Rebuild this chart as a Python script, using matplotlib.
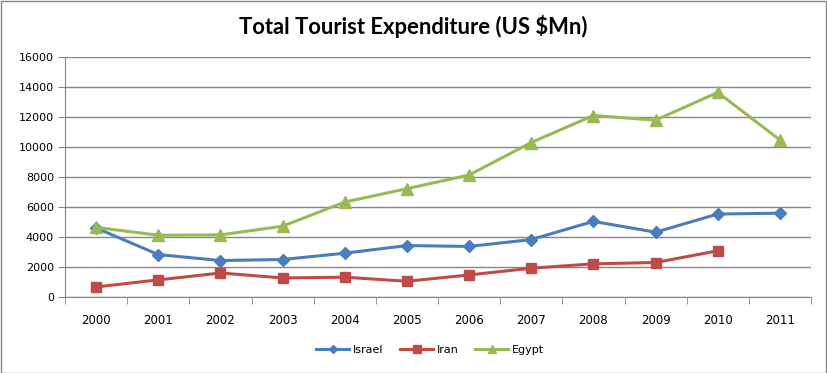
import matplotlib
matplotlib.use('Agg')
import matplotlib.pyplot as plt
from matplotlib.patches import Rectangle

years = ['2000', '2001', '2002', '2003', '2004', '2005',
         '2006', '2007', '2008', '2009', '2010', '2011']
israel = [4600, 2830, 2430, 2500, 2920, 3430, 3370, 3830, 5040, 4320, 5530, 5590]
iran = [670, 1140, 1600, 1270, 1320, 1050, 1470, 1920, 2210, 2300, 3080]
egypt = [4640, 4120, 4140, 4720, 6330, 7220, 8130, 10300, 12100, 11790, 13640, 10470]
yticks = [0, 2000, 4000, 6000, 8000, 10000, 12000, 14000, 16000]

fig = plt.figure(figsize=(8.27, 3.73), dpi=100)
ax = fig.add_axes([65 / 827, 1 - 297 / 373, 746 / 827, 240 / 373])

x = range(len(years))
ax.plot(x, israel, color='#4A7EBB', lw=2.2, marker='D', ms=6, label='Israel')
ax.plot(range(len(iran)), iran, color='#BE4B48', lw=2.2, marker='s', ms=7.5, label='Iran')
ax.plot(x, egypt, color='#98B954', lw=2.2, marker='^', ms=8, label='Egypt')

ax.set_xlim(-0.5, len(years) - 0.5)
ax.set_ylim(0, 16000)
ax.set_yticks(yticks)
ax.set_yticklabels([str(v) for v in yticks], fontsize=8)
ax.set_xticks(list(x))
ax.set_xticklabels(years, fontsize=8.5)
ax.set_xticks([i - 0.5 for i in range(len(years) + 1)], minor=True)
ax.tick_params(axis='x', which='major', length=0, pad=12)
ax.tick_params(axis='x', which='minor', length=5, color='#868686')
ax.tick_params(axis='y', length=5, color='#868686', pad=3)
ax.grid(axis='y', color='#868686', lw=1)
ax.set_axisbelow(True)
for s in ['top', 'right']:
    ax.spines[s].set_visible(False)
ax.spines['left'].set_color('#868686')
ax.spines['bottom'].set_color('#868686')

fig.text(0.5, 1 - 27 / 373, 'Total Tourist Expenditure (US $Mn)', ha='center', va='center',
         fontsize=15.8, fontweight='bold', family='Lato')
fig.legend(loc='center', bbox_to_anchor=(0.52, 1 - 350 / 373), ncol=3, frameon=False,
           fontsize=8, handlelength=3, columnspacing=1.5, handletextpad=0.3, markerscale=0.7)

fig.patches.append(Rectangle((0.5 / 827, 0.5 / 373), 1 - 1.5 / 827, 1 - 1.5 / 373,
                             transform=fig.transFigure, fill=False, edgecolor='#868686', lw=1))

plt.savefig('out.png', dpi=100)
